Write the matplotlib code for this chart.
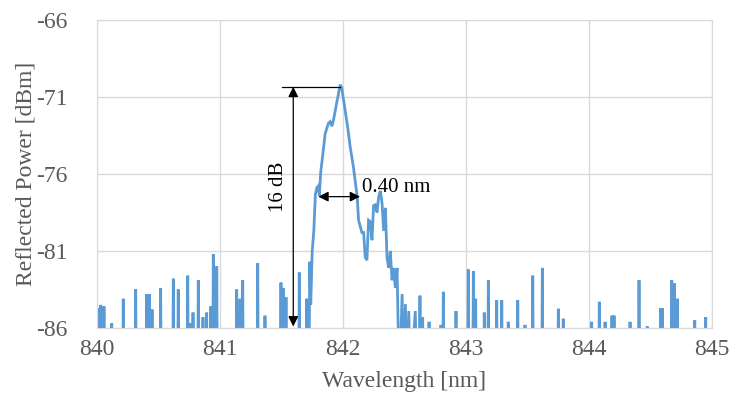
import matplotlib.pyplot as plt

plt.rcParams['font.family'] = ['Liberation Serif', 'DejaVu Serif']
plt.rcParams['axes.unicode_minus'] = False

FLOOR = -90  # noise floor, below the axis minimum

# isolated noise spikes (wavelength nm, level dBm)
noise_wl = [840.005, 840.033, 840.059, 840.122, 840.216, 840.317, 840.407, 840.428,
            840.45, 840.52, 840.623, 840.663, 840.74, 840.759, 840.783, 840.826,
            840.864, 840.894, 840.927, 840.948, 840.976, 841.138, 841.165, 841.187,
            841.309, 841.368, 841.498, 841.517, 841.539, 841.647, 841.707,
            842.628, 842.65, 842.702, 842.799, 842.818, 842.921, 843.021, 843.062,
            843.081, 843.151, 843.184, 843.252, 843.293, 843.346, 843.423, 843.482,
            843.545, 843.623, 843.753, 843.793, 844.024, 844.086, 844.133, 844.189,
            844.206, 844.336, 844.409, 844.476, 844.585, 844.598, 844.675, 844.696,
            844.72, 844.862, 844.951]
noise_dbm = [-84.7, -84.5, -84.6, -85.7, -84.1, -83.5, -83.8, -83.8,
             -84.8, -83.4, -82.8, -83.5, -82.6, -85.7, -85.0, -82.9,
             -85.3, -85.0, -84.6, -81.2, -82.0, -83.5, -84.1, -82.9,
             -81.8, -85.2, -83.05, -83.4, -84.0, -82.4, -84.1,
             -83.9, -85.3, -85.6, -85.8, -83.65, -84.9, -82.2, -82.3,
             -84.1, -85.0, -82.9, -84.2, -84.2, -85.6, -84.2, -85.8,
             -82.6, -82.1, -84.75, -85.4, -85.6, -84.3, -85.6, -85.2,
             -85.2, -85.6, -82.9, -85.9, -84.7, -84.7, -82.9, -83.1,
             -84.1, -85.5, -85.3]

# reflection peak
peak_wl = [841.725, 841.732, 841.74, 841.752, 841.765, 841.778, 841.79, 841.80,
           841.81, 841.822, 841.83, 841.857, 841.884, 841.898, 841.912, 841.925,
           841.953, 841.98, 841.992, 842.02, 842.041, 842.061, 842.088, 842.102,
           842.118, 842.129, 842.156, 842.17, 842.183, 842.197, 842.21, 842.224,
           842.238, 842.251, 842.265, 842.279, 842.292, 842.306, 842.32, 842.333,
           842.347, 842.36, 842.373, 842.387, 842.401, 842.414, 842.428, 842.442,
           842.46, 842.483, 842.495, 842.51, 842.522, 842.537, 842.55, 842.59,
           842.603]
peak_dbm = [FLOOR, -81.7, -84.5, -81.0, -79.7, -77.3, -76.9, -76.8,
            -77.4, -75.8, -75.3, -73.4, -72.7, -72.6, -72.9, -72.5,
            -71.3, -70.2, -70.4, -71.9, -73.0, -74.25, -75.6, -76.5,
            -77.5, -79.0, -79.8, -79.8, -81.4, -81.6, -79.0, -79.1,
            -80.3, -78.05, -78.0, -78.5, -77.5, -77.1, -77.9, -79.7,
            -78.2, -81.4, -82.1, -81.0, -82.9, -82.1, -83.4, -82.1,
            FLOOR, -83.8, FLOOR, -84.45, FLOOR, -84.9, FLOOR, -84.9,
            FLOOR]

x_ticks = [840, 841, 842, 843, 844, 845]
y_ticks = [-86, -81, -76, -71, -66]


def build_series():
    # each noise spike rises from the floor and drops back to it
    wl, db = [], []
    for w, d in zip(noise_wl, noise_dbm):
        wl += [w - 0.005, w, w + 0.005]
        db += [FLOOR, d, FLOOR]
    noise = list(zip(wl, db))
    left = [p for p in noise if p[0] < peak_wl[0]]
    right = [p for p in noise if p[0] > peak_wl[-1]]
    full = left + list(zip(peak_wl, peak_dbm)) + right
    return [p[0] for p in full], [p[1] for p in full]


wl, dbm = build_series()

fig = plt.figure(figsize=(7.32, 4.03), dpi=100)
ax = fig.add_axes([0.1321, 0.1861, 0.8402, 0.7643])

ax.plot(wl, dbm, color='#5B9BD5', lw=2.0, solid_joinstyle='miter')
ax.set_xlim(840, 845)
ax.set_ylim(-86, -66)
ax.set_xticks(x_ticks)
ax.set_yticks(y_ticks)
ax.grid(True, color='#d9d9d9', lw=1)
ax.set_axisbelow(True)
for s in ax.spines.values():
    s.set_color('#d9d9d9')
ax.tick_params(length=0, labelsize=17, colors='#595959')
ax.tick_params(axis='y', pad=21)
ax.tick_params(axis='x', pad=8)
ax.set_xlabel('Wavelength [nm]', fontsize=17, color='#595959', labelpad=8)
ax.set_ylabel('Reflected Power [dBm]', fontsize=17, color='#595959', labelpad=0)

# annotations
ax.plot([841.504, 841.978], [-70.34, -70.34], color='black', lw=0.9)
ax.annotate('', xy=(841.598, -70.34), xytext=(841.598, -85.9),
            arrowprops=dict(arrowstyle='<|-|>', color='black', lw=0.9,
                            mutation_scale=15, shrinkA=0, shrinkB=0))
ax.annotate('', xy=(841.802, -77.47), xytext=(842.141, -77.47),
            arrowprops=dict(arrowstyle='<|-|>', color='black', lw=0.9,
                            mutation_scale=15, shrinkA=0, shrinkB=0))
ax.text(841.48, -76.8, '16 dB', rotation=90, ha='center', va='center',
        fontsize=15, color='black')
ax.text(842.155, -76.9, '0.40 nm', ha='left', va='center',
        fontsize=15, color='black')

fig.savefig('out.png', dpi=100)
